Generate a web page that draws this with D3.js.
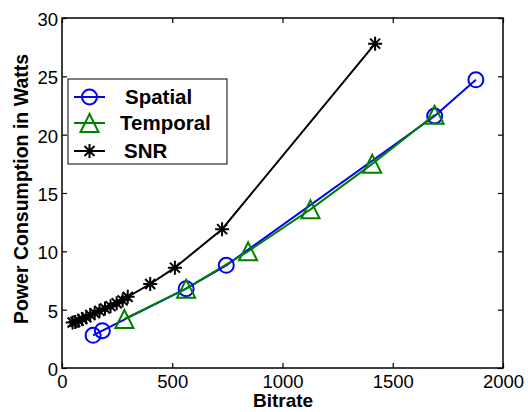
<!DOCTYPE html>
<html>
<head>
<meta charset="utf-8">
<script src="https://cdn.jsdelivr.net/npm/d3@7"></script>
<style>
body { margin: 0; background: #fff; }
svg { font-family: "Liberation Sans", Arial, sans-serif; }
</style>
</head>
<body>
<svg width="528" height="412"></svg>
<script>
// bitrate / power readings
var spatialRate = [141, 183, 563, 745, 1690, 1877];
var spatialPower = [2.8, 3.2, 6.8, 8.8, 21.6, 24.7];
var temporalRate = [283, 563, 844, 1127, 1407, 1690];
var temporalPower = [4.2, 6.8, 10.0, 13.6, 17.5, 21.7];
var snrRate = [48, 60, 75, 92, 110, 128, 148, 170, 195, 220, 248, 275, 298, 400, 512, 726, 1420];
var snrPower = [3.9, 3.95, 4.05, 4.2, 4.35, 4.55, 4.7, 4.9, 5.1, 5.3, 5.55, 5.8, 6.1, 7.2, 8.6, 11.9, 27.8];
var xTicks = [0, 500, 1000, 1500, 2000];
var yTicks = [0, 5, 10, 15, 20, 25, 30];
var seriesNames = ['Spatial', 'Temporal', 'SNR'];

function Run() {
    var svgctrl = d3.select('svg');
    var left = 62, right = 503, top = 18, bottom = 368;

    var x = d3.scaleLinear().domain([0, 2000]).range([left, right]);
    var y = d3.scaleLinear().domain([0, 30]).range([bottom, top]);

    var series = [
        { name: seriesNames[0], color: '#0000ff', marker: 'circle', pts: d3.zip(spatialRate, spatialPower) },
        { name: seriesNames[1], color: '#008000', marker: 'triangle', pts: d3.zip(temporalRate, temporalPower) },
        { name: seriesNames[2], color: '#000000', marker: 'star', pts: d3.zip(snrRate, snrPower) }
    ];

    // box
    svgctrl.append('rect').attr('x', left).attr('y', top).attr('width', right - left).attr('height', bottom - top)
        .attr('fill', 'none').attr('stroke', '#000').attr('stroke-width', 1.5);

    // ticks, inward, on all four sides
    var xb = svgctrl.append('g').attr('transform', 'translate(0,' + bottom + ')')
        .call(d3.axisBottom(x).tickValues(xTicks).tickSizeInner(-5).tickSizeOuter(0).tickFormat(d3.format('d')));
    var xt = svgctrl.append('g').attr('transform', 'translate(0,' + top + ')')
        .call(d3.axisTop(x).tickValues(xTicks).tickSizeInner(-5).tickSizeOuter(0).tickFormat(''));
    var yl = svgctrl.append('g').attr('transform', 'translate(' + left + ',0)')
        .call(d3.axisLeft(y).tickValues(yTicks).tickSizeInner(-5).tickSizeOuter(0).tickFormat(d3.format('d')));
    var yr = svgctrl.append('g').attr('transform', 'translate(' + right + ',0)')
        .call(d3.axisRight(y).tickValues(yTicks).tickSizeInner(-5).tickSizeOuter(0).tickFormat(''));

    [xb, xt, yl, yr].forEach(function(g) {
        g.select('.domain').remove();
        g.selectAll('line').attr('stroke', '#000').attr('stroke-width', 1.2);
        g.selectAll('text').attr('font-size', 18.5).attr('fill', '#000').attr('font-family', '"Liberation Sans", Arial, sans-serif');
    });
    xb.selectAll('text').attr('y', 20).attr('dy', null);
    yl.selectAll('text').attr('x', -4).attr('dy', '0.4em');

    // lines
    var line = d3.line().x(function(d) { return x(d[0]); }).y(function(d) { return y(d[1]); });
    series.forEach(function(s) {
        svgctrl.append('path').datum(s.pts).attr('d', line)
            .attr('fill', 'none').attr('stroke', s.color).attr('stroke-width', 2);
    });

    function drawMarker(g, kind, cx, cy, color) {
        if (kind === 'circle') {
            g.append('circle').attr('cx', cx).attr('cy', cy).attr('r', 7.5)
                .attr('fill', 'none').attr('stroke', color).attr('stroke-width', 2);
        } else if (kind === 'triangle') {
            var h = 9;
            g.append('path').attr('d', 'M' + cx + ',' + (cy - h) + 'L' + (cx + h) + ',' + (cy + h) + 'L' + (cx - h) + ',' + (cy + h) + 'Z')
                .attr('fill', 'none').attr('stroke', color).attr('stroke-width', 2);
        } else {
            var r = 7, d = 5;
            g.append('path').attr('d',
                'M' + cx + ',' + (cy - r) + 'V' + (cy + r) +
                'M' + (cx - r) + ',' + cy + 'H' + (cx + r) +
                'M' + (cx - d) + ',' + (cy - d) + 'L' + (cx + d) + ',' + (cy + d) +
                'M' + (cx - d) + ',' + (cy + d) + 'L' + (cx + d) + ',' + (cy - d))
                .attr('fill', 'none').attr('stroke', color).attr('stroke-width', 2);
        }
    }

    series.forEach(function(s) {
        var g = svgctrl.append('g');
        s.pts.forEach(function(p) { drawMarker(g, s.marker, x(p[0]), y(p[1]), s.color); });
    });

    // legend
    var lg = svgctrl.append('g');
    lg.append('rect').attr('x', 68).attr('y', 79).attr('width', 159).attr('height', 85)
        .attr('fill', '#fff').attr('stroke', '#000').attr('stroke-width', 1);
    var rowY = [97, 123, 151];
    var textX = [125, 120, 124];
    series.forEach(function(s, i) {
        lg.append('line').attr('x1', 74).attr('x2', 105).attr('y1', rowY[i]).attr('y2', rowY[i])
            .attr('stroke', s.color).attr('stroke-width', 2);
        drawMarker(lg, s.marker, 89.5, rowY[i], s.color);
        lg.append('text').attr('x', textX[i]).attr('y', rowY[i]).attr('dy', '0.36em')
            .attr('font-size', 20.5).attr('font-weight', 'bold').text(s.name);
    });

    // axis labels
    svgctrl.append('text').attr('x', 283).attr('y', 407).attr('text-anchor', 'middle')
        .attr('font-size', 19).attr('font-weight', 'bold').text('Bitrate');
    svgctrl.append('text').attr('transform', 'translate(28,189) rotate(-90)')
        .attr('text-anchor', 'middle').attr('font-size', 19.5).attr('font-weight', 'bold').text('Power Consumption in Watts');
}

Run();
</script>
</body>
</html>
